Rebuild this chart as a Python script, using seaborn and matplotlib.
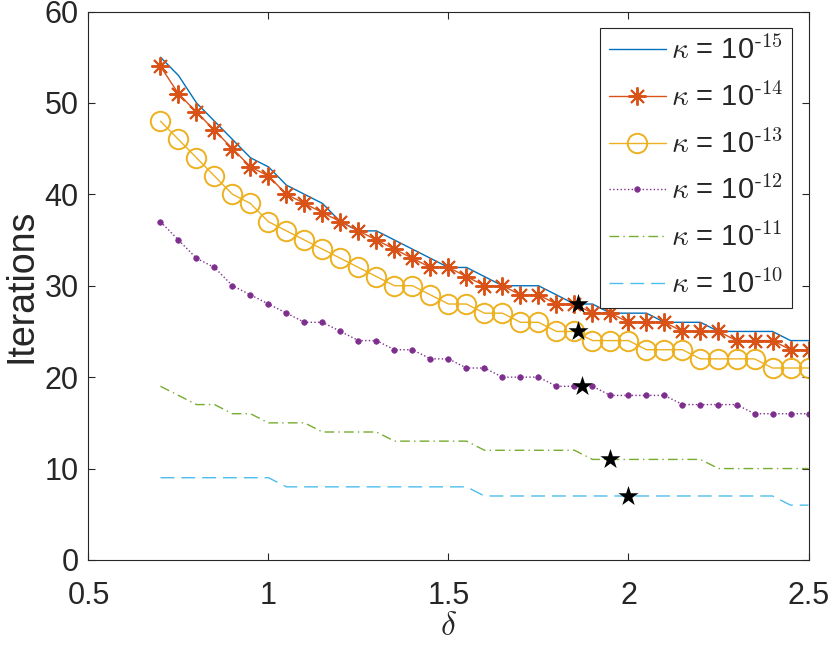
import numpy as np
import pandas as pd
import matplotlib
matplotlib.use("Agg")
import matplotlib.pyplot as plt
import seaborn as sns

# delta grid used for all runs
delta = [0.7, 0.75, 0.8, 0.85, 0.9, 0.95, 1.0, 1.05, 1.1, 1.15, 1.2, 1.25, 1.3,
         1.35, 1.4, 1.45, 1.5, 1.55, 1.6, 1.65, 1.7, 1.75, 1.8, 1.85, 1.9, 1.95,
         2.0, 2.05, 2.1, 2.15, 2.2, 2.25, 2.3, 2.35, 2.4, 2.45, 2.5]

iters_k15 = [55, 53, 50, 48, 46, 44, 43, 41, 40, 39, 37, 36, 36, 35, 34, 33,
             32, 32, 31, 30, 30, 30, 29, 28, 28, 27, 27, 27, 26, 26, 26, 25,
             25, 25, 25, 24, 24]
iters_k14 = [54, 51, 49, 47, 45, 43, 42, 40, 39, 38, 37, 36, 35, 34, 33, 32,
             32, 31, 30, 30, 29, 29, 28, 28, 27, 27, 26, 26, 26, 25, 25, 25,
             24, 24, 24, 23, 23]
iters_k13 = [48, 46, 44, 42, 40, 39, 37, 36, 35, 34, 33, 32, 31, 30, 30, 29,
             28, 28, 27, 27, 26, 26, 25, 25, 24, 24, 24, 23, 23, 23, 22, 22,
             22, 22, 21, 21, 21]
iters_k12 = [37, 35, 33, 32, 30, 29, 28, 27, 26, 26, 25, 24, 24, 23, 23, 22,
             22, 21, 21, 20, 20, 20, 19, 19, 19, 18, 18, 18, 18, 17, 17, 17,
             17, 16, 16, 16, 16]
iters_k11 = [19, 18, 17, 17, 16, 16, 15, 15, 15, 14, 14, 14, 14, 13, 13, 13,
             13, 13, 12, 12, 12, 12, 12, 12, 11, 11, 11, 11, 11, 11, 11, 10,
             10, 10, 10, 10, 10]
iters_k10 = [9, 9, 9, 9, 9, 9, 9, 8, 8, 8, 8, 8, 8, 8, 8, 8,
             8, 8, 7, 7, 7, 7, 7, 7, 7, 7, 7, 7, 7, 7, 7, 7,
             7, 7, 7, 6, 6]

# optimal delta markers
opt_delta = [1.86, 1.86, 1.87, 1.95, 2.0]
opt_iters = [28, 25, 19, 11, 7]

exponents = ['-15', '-14', '-13', '-12', '-11', '-10']
labels = [r'$\kappa$ = 10$^{\mathregular{\text{%s}}}$' % e for e in exponents]

sns.set_style("ticks")
plt.rcParams['font.family'] = ['Liberation Sans', 'DejaVu Sans']
plt.rcParams['mathtext.fontset'] = 'cm'
ink = '#262626'

fig = plt.figure(figsize=(8.3, 6.5), dpi=100)
ax = fig.add_axes([0.1066, 0.1385, 0.8675, 0.8438])

sns.lineplot(x=delta, y=iters_k15, color='#0072BD', lw=1.0, label=labels[0], ax=ax)
sns.lineplot(x=delta, y=iters_k14, color='#D95319', lw=1.0, marker=(8, 2, 0),
             markersize=13, markeredgecolor='#D95319', markeredgewidth=1.4,
             label=labels[1], ax=ax)
sns.lineplot(x=delta, y=iters_k13, color='#EDB120', lw=1.0, marker='o',
             markersize=14, markerfacecolor='none', markeredgecolor='#EDB120',
             markeredgewidth=1.4, label=labels[2], ax=ax)
sns.lineplot(x=delta, y=iters_k12, color='#7E2F8E', lw=1.0, linestyle=':',
             marker='o', markersize=4, markeredgecolor='#7E2F8E',
             markeredgewidth=0.5, label=labels[3], ax=ax)
sns.lineplot(x=delta, y=iters_k11, color='#77AC30', lw=1.0,
             dashes=(7, 3, 1, 3), label=labels[4], ax=ax)
sns.lineplot(x=delta, y=iters_k10, color='#4DBEEE', lw=1.0,
             dashes=(10, 5), label=labels[5], ax=ax)

sns.scatterplot(x=opt_delta, y=opt_iters, marker='*', s=230, color='black',
                linewidth=0, zorder=5, ax=ax)

ax.set_xlim(0.5, 2.5)
ax.set_ylim(0, 60)
ax.set_xticks([0.5, 1, 1.5, 2, 2.5])
ax.set_xticklabels(['0.5', '1', '1.5', '2', '2.5'])
ax.set_yticks([0, 10, 20, 30, 40, 50, 60])
ax.tick_params(direction='in', length=5, width=0.8, labelsize=22, colors=ink,
               top=True, right=True, pad=7)
ax.tick_params(axis='x', pad=15)
for sp in ax.spines.values():
    sp.set_visible(True)
    sp.set_color(ink)
    sp.set_linewidth(0.8)

ax.set_xlabel(r'$\delta$', fontsize=24, color=ink, labelpad=0)
ax.set_ylabel('Iterations', fontsize=27, color=ink, labelpad=4)

leg = ax.legend(loc='upper right', fontsize=21, frameon=True, fancybox=False,
                edgecolor=ink, framealpha=1, handlelength=1.95,
                handletextpad=0.2, labelspacing=0.6, borderpad=0.3,
                borderaxespad=0.55)
leg.get_frame().set_linewidth(0.8)

fig.savefig("out.png", dpi=100)
